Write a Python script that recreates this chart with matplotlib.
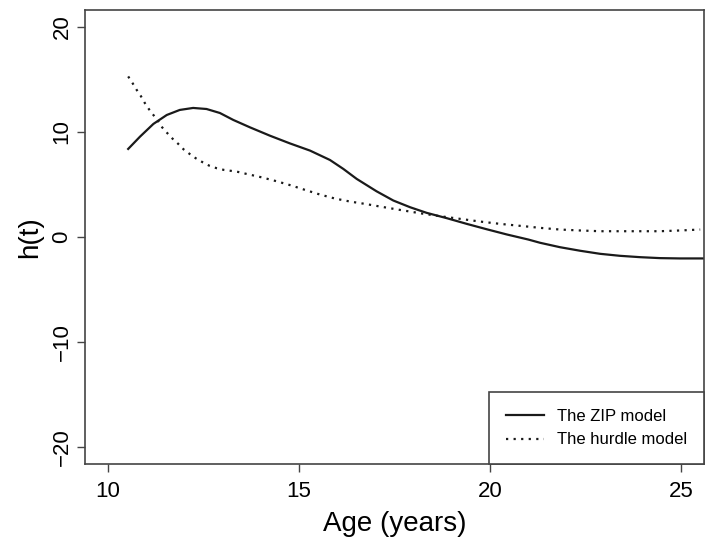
import numpy as np
import matplotlib.pyplot as plt

plt.rcParams['font.family'] = ['Liberation Sans', 'DejaVu Sans']

# ZIP model curve
zip_age = [10.53, 10.84, 11.19, 11.54, 11.88, 12.23, 12.58, 12.93, 13.28, 13.72,
           14.24, 14.76, 15.29, 15.81, 16.16, 16.51, 17.03, 17.47, 17.91, 18.34,
           18.87, 19.39, 19.91, 20.44, 21.0, 21.31, 21.83, 22.36, 22.88, 23.40,
           23.93, 24.45, 24.97, 25.58]
zip_h = [8.38, 9.55, 10.76, 11.61, 12.09, 12.28, 12.18, 11.80, 11.14, 10.43,
         9.64, 8.91, 8.22, 7.33, 6.48, 5.53, 4.35, 3.47, 2.83, 2.30,
         1.79, 1.25, 0.74, 0.24, -0.24, -0.55, -0.97, -1.31, -1.60, -1.79,
         -1.92, -2.01, -2.04, -2.04]

# hurdle model curve
hurdle_age = [10.53, 10.65, 10.75, 10.86, 10.96, 11.07, 11.19, 11.31, 11.42, 11.55,
              11.69, 11.84, 11.98, 12.14, 12.30, 12.48, 12.65, 12.85, 13.04, 13.23,
              13.41, 13.63, 14.02, 14.42, 14.81, 15.16, 15.55, 15.94, 16.34, 16.73,
              17.12, 17.64, 18.17, 18.69, 19.21, 19.74, 20.26, 20.96, 21.31, 21.83,
              22.36, 22.88, 23.40, 23.93, 24.45, 24.97, 25.50]
hurdle_h = [15.28, 14.61, 14.01, 13.42, 12.78, 12.18, 11.61, 11.04, 10.43, 9.90,
            9.36, 8.86, 8.34, 7.90, 7.49, 7.11, 6.79, 6.54, 6.38, 6.29,
            6.19, 6.00, 5.68, 5.30, 4.89, 4.48, 4.04, 3.66, 3.37, 3.15,
            2.90, 2.58, 2.26, 1.98, 1.73, 1.47, 1.25, 1.00, 0.87, 0.71,
            0.62, 0.55, 0.55, 0.55, 0.55, 0.62, 0.71]

x_ticks = [10, 15, 20, 25]
y_ticks = [-20, -10, 0, 10, 20]

fig = plt.figure(figsize=(7.14, 5.47), dpi=100)
ax = fig.add_axes([85 / 714, 1 - 464 / 547, 619 / 714, 454 / 547])

ax.plot(zip_age, zip_h, color='#1a1a1a', lw=1.6, label='The ZIP model')
ax.plot(hurdle_age, hurdle_h, color='#1a1a1a', lw=1.6, linestyle=(0, (1, 2.4)),
        label='The hurdle model')

ax.set_xlim(9.4, 25.6)
ax.set_ylim(-21.6, 21.6)
ax.set_xticks(x_ticks)
ax.set_yticks(y_ticks)
ax.tick_params(direction='out', length=6, width=1, color='#444444', labelsize=16)
ax.tick_params(axis='x', pad=6)
ax.tick_params(axis='y', pad=3)
for lab in ax.get_yticklabels():
    lab.set_rotation(90)
    lab.set_va('center')
for s in ax.spines.values():
    s.set_color('#444444')
    s.set_linewidth(1.2)

ax.set_xlabel('Age (years)', fontsize=20, labelpad=7)
ax.set_ylabel('h(t)', fontsize=20, labelpad=6)

leg = ax.legend(loc='lower right', borderaxespad=0, fancybox=False, framealpha=1,
                edgecolor='#444444', fontsize=12, handlelength=2.3, borderpad=1.0,
                handletextpad=0.8, labelspacing=0.5)
leg.get_frame().set_linewidth(1.2)

fig.savefig('out.png', dpi=100)
